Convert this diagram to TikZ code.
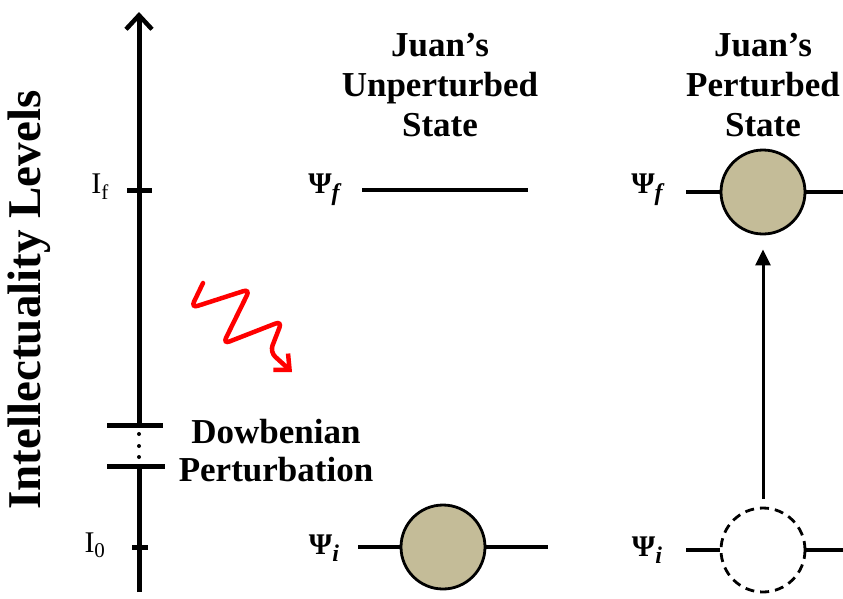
\documentclass[tikz,border=0pt]{standalone}
\usepackage{fontspec}
\setmainfont{Liberation Serif}
\usetikzlibrary{arrows.meta}
\definecolor{beix}{RGB}{196,188,152}

\newcommand{\estat}[1]{\textbf{Ψ}\raisebox{-0.5ex}{\fontsize{24}{24}\selectfont\bfseries\itshape #1}}

\begin{document}
\begin{tikzpicture}[x=1pt,y=-1pt,
    titol/.style={font=\fontsize{35}{40}\selectfont\bfseries, align=center},
    nivell/.style={line width=4.5pt},
    eix/.style={line width=5pt},
    bola/.style={circle, draw, line width=2.8pt, fill=beix, minimum size=84pt, inner sep=0pt},
    etiq/.style={font=\fontsize{30}{30}\selectfont},
    marca/.style={font=\fontsize{30}{30}\selectfont}]
        \useasboundingbox (0,0) rectangle (843,598);
        % Eix vertical amb tall
        \coordinate (base) at (139,592);
        \coordinate (cim) at (139,12);
        \coordinate (tallA) at (139,425);
        \coordinate (tallB) at (139,466);
        \draw[eix, -{Straight Barb[length=14pt, width=26pt, line width=4.5pt]}] (tallA) -- (cim);
        \draw[eix] (base) -- (tallB);
        \draw[eix] (107,425) -- (163,425);
        \draw[eix] (107,466) -- (165,466);
        \foreach \y in {434,446,457} \fill (139,\y) circle (2pt); % punts del tall
        \draw[eix] (127,190) -- (152,190);
        \draw[eix] (132,547) -- (148,547);
        \node[marca] (If) at (100,187) {I\textsubscript{f}};
        \node[marca] (I0) at (95,545) {I\textsubscript{0}};
        \node[rotate=90, font=\fontsize{47}{47}\selectfont\bfseries] (nivells) at (29,300) {Intellectuality Levels};

        % Titols
        \node[titol] (sense) at (440,85) {Juan's\\Unperturbed\\State};
        \node[titol] (amb) at (763,85) {Juan's\\Perturbed\\State};
        \node[titol, font=\fontsize{35}{38}\selectfont\bfseries] (pert) at (276,451) {Dowbenian\\Perturbation};

        % Estat sense pertorbar
        \node[etiq] (uf) at (324,190) {\estat{f}};
        \node[etiq] (ui) at (324,548) {\estat{i}};
        \draw[nivell] (362,190) -- (528,190);
        \node[bola] (bi) at (443,547) {};
        \draw[nivell] (358,547) -- (bi.west);
        \draw[nivell] (bi.east) -- (548,547);

        % Estat pertorbat
        \node[etiq] (pf) at (647,190) {\estat{f}};
        \node[etiq] (pi) at (647,550) {\estat{i}};
        \node[bola] (bf) at (763,192) {};
        \node[bola, dashed, fill=none, dash pattern=on 9pt off 6pt] (bd) at (763,550) {};
        \draw[nivell] (686,192) -- (bf.west);
        \draw[nivell] (bf.east) -- (845,192);
        \draw[nivell] (686,550) -- (bd.west);
        \draw[nivell] (bd.east) -- (845,550);
        \draw[line width=3pt, -{Triangle[length=16pt, width=15pt]}, shorten <=8pt, shorten >=14pt] (bd.north) -- (bf.south);

        % Fletxa ondulada
        \draw[red, line width=4.5pt, rounded corners=7pt, line cap=round,
              -{Straight Barb[length=12pt, width=22pt, line width=4.5pt]}]
            (203,283) -- (191,308) -- (250,289) -- (223,344) -- (282,321) -- (270,352) -- (292,372);
\end{tikzpicture}
\end{document}
